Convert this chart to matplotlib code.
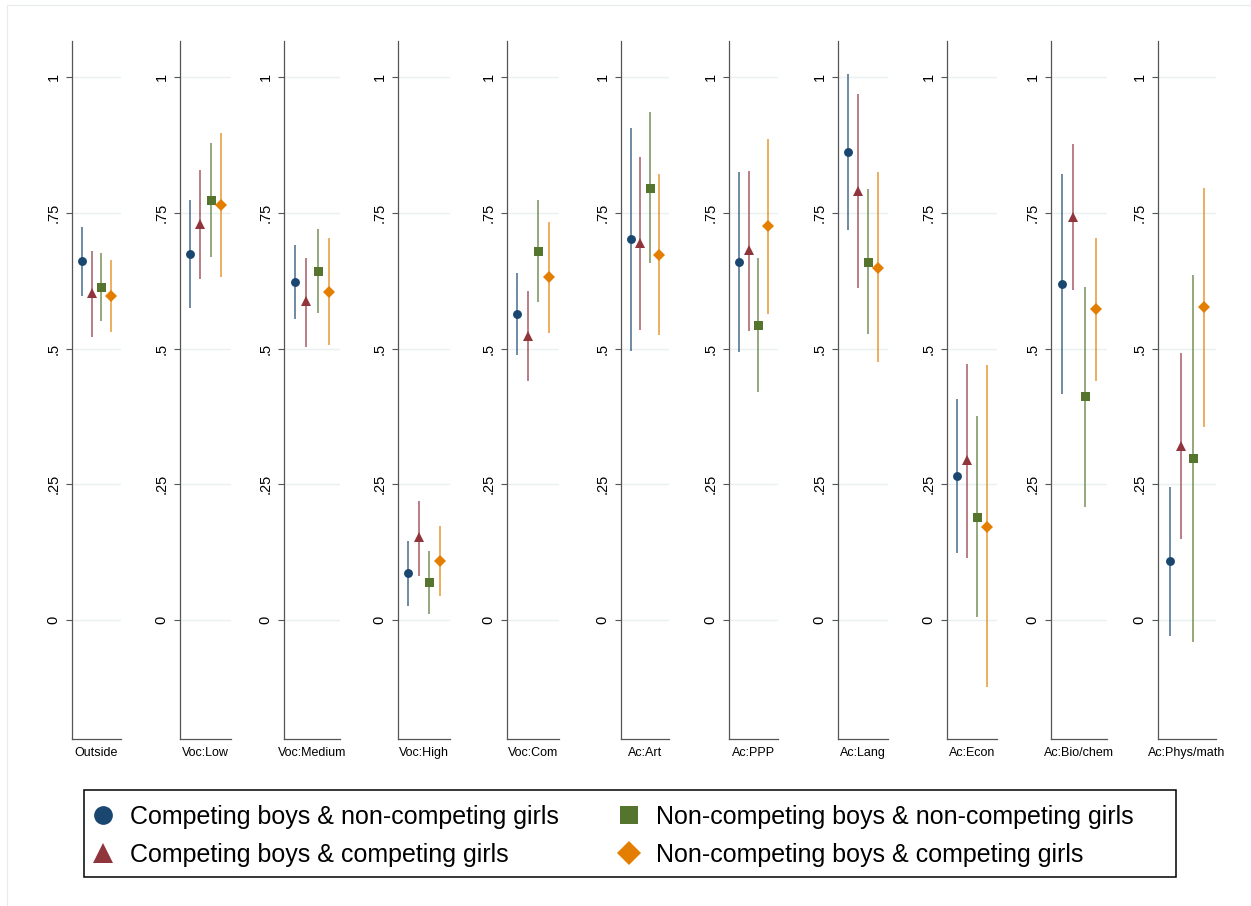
import matplotlib
matplotlib.use("Agg")
import matplotlib.pyplot as plt
from matplotlib.lines import Line2D
from matplotlib.patches import Rectangle

plt.rcParams['font.family'] = ['Liberation Sans', 'DejaVu Sans']

# categories (one panel each)
categories = ["Outside", "Voc:Low", "Voc:Medium", "Voc:High", "Voc:Com", "Ac:Art",
              "Ac:PPP", "Ac:Lang", "Ac:Econ", "Ac:Bio/chem", "Ac:Phys/math"]

series_names = ["Competing boys & non-competing girls",
                "Competing boys & competing girls",
                "Non-competing boys & non-competing girls",
                "Non-competing boys & competing girls"]

# Competing boys & non-competing girls
cb_ncg_est = [0.661, 0.674, 0.623, 0.086, 0.563, 0.701, 0.659, 0.862, 0.266, 0.619, 0.109]
cb_ncg_lo = [0.597, 0.574, 0.554, 0.026, 0.488, 0.496, 0.493, 0.718, 0.123, 0.417, -0.029]
cb_ncg_hi = [0.723, 0.773, 0.691, 0.146, 0.639, 0.906, 0.826, 1.006, 0.408, 0.821, 0.246]

# Competing boys & competing girls
cb_cg_est = [0.603, 0.730, 0.587, 0.153, 0.524, 0.695, 0.682, 0.791, 0.294, 0.743, 0.321]
cb_cg_lo = [0.522, 0.628, 0.503, 0.082, 0.440, 0.534, 0.533, 0.611, 0.114, 0.607, 0.149]
cb_cg_hi = [0.680, 0.829, 0.667, 0.219, 0.606, 0.853, 0.827, 0.969, 0.471, 0.877, 0.491]

# Non-competing boys & non-competing girls
ncb_ncg_est = [0.614, 0.774, 0.643, 0.070, 0.680, 0.795, 0.543, 0.660, 0.190, 0.412, 0.298]
ncb_ncg_lo = [0.551, 0.669, 0.565, 0.012, 0.585, 0.657, 0.420, 0.526, 0.005, 0.209, -0.041]
ncb_ncg_hi = [0.676, 0.878, 0.720, 0.127, 0.774, 0.935, 0.666, 0.793, 0.375, 0.613, 0.635]

# Non-competing boys & competing girls
ncb_cg_est = [0.597, 0.765, 0.605, 0.109, 0.631, 0.673, 0.725, 0.649, 0.172, 0.572, 0.577]
ncb_cg_lo = [0.530, 0.632, 0.507, 0.045, 0.528, 0.525, 0.564, 0.475, -0.124, 0.440, 0.356]
ncb_cg_hi = [0.664, 0.897, 0.703, 0.173, 0.733, 0.821, 0.886, 0.825, 0.469, 0.704, 0.795]

yticks = [0, 0.25, 0.5, 0.75, 1]
ytick_labels = ["0", ".25", ".5", ".75", "1"]

series = [
    (cb_ncg_est, cb_ncg_lo, cb_ncg_hi, "#1a476f", "o", 8.9),
    (cb_cg_est, cb_cg_lo, cb_cg_hi, "#90353b", "^", 9.7),
    (ncb_ncg_est, ncb_ncg_lo, ncb_ncg_hi, "#55752f", "s", 9.0),
    (ncb_cg_est, ncb_cg_lo, ncb_cg_hi, "#e37e00", "D", 8.6),
]

# panel layout in pixels (left edge, width)
W, H = 1251, 906
panel_left = [72, 180, 284, 398, 507, 621, 729, 838, 947, 1051, 1158]
panel_width = [49, 51, 56, 52, 52, 48, 49, 50, 50, 56, 58]
top_px, bottom_px = 40.7, 739

fig = plt.figure(figsize=(W / 100, H / 100), dpi=100)
fig.patch.set_facecolor("white")

# faint outer frame
fig.patches.append(Rectangle((7 / W, -0.1), 1.2, (H - 5) / H + 0.1, transform=fig.transFigure,
                             fill=False, edgecolor="#e4ecee", lw=0.8))

for i, cat in enumerate(categories):
    ax = fig.add_axes([panel_left[i] / W, (H - bottom_px) / H,
                       panel_width[i] / W, (bottom_px - top_px) / H])
    ax.set_xlim(0, 5)
    ax.set_ylim(-0.219, 1.067)
    for j, (est, lo, hi, col, mk, ms) in enumerate(series):
        x = j + 1
        ax.plot([x, x], [lo[i], hi[i]], color=col, lw=1.1, alpha=0.8, solid_capstyle="butt", zorder=2)
        ax.plot(x, est[i], marker=mk, color=col, markersize=ms * 0.72, mew=0, zorder=3)
    ax.set_yticks(yticks)
    ax.set_yticklabels(ytick_labels, rotation=90, va="center", fontsize=10.5)
    ax.set_xticks([])
    ax.grid(axis="y", color="#e8f0f1", lw=1.0, zorder=0)
    ax.set_axisbelow(True)
    for s in ["top", "right"]:
        ax.spines[s].set_visible(False)
    for s in ["left", "bottom"]:
        ax.spines[s].set_color("#555555")
        ax.spines[s].set_linewidth(0.9)
    ax.tick_params(axis="y", length=4.3, width=0.8, color="#555555", pad=4)
    ax.annotate(cat, xy=(0.5, 0), xycoords="axes fraction", xytext=(0, -14),
                textcoords="offset pixels", ha="center", va="center", fontsize=9)

# legend
handles = []
for (est, lo, hi, col, mk, ms), name in zip(series, series_names):
    size = {"o": 13.5, "^": 14, "s": 12.5, "D": 12}[mk]
    handles.append(Line2D([], [], linestyle="none", marker=mk, color=col,
                          markersize=size, mew=0, label=name))

fig.patches.append(Rectangle((84 / W, (H - 877) / H), 1092 / W, 87 / H,
                             transform=fig.transFigure, fill=False,
                             edgecolor="black", lw=1.1))
fig.legend(handles=handles, ncol=2, loc="upper left",
           bbox_to_anchor=(90.5 / W, (H - 805) / H), frameon=False,
           fontsize=18, handlelength=1.0, handletextpad=0.58,
           columnspacing=2.3, labelspacing=0.56, borderpad=0, borderaxespad=0)

fig.savefig("out.png", dpi=100)
